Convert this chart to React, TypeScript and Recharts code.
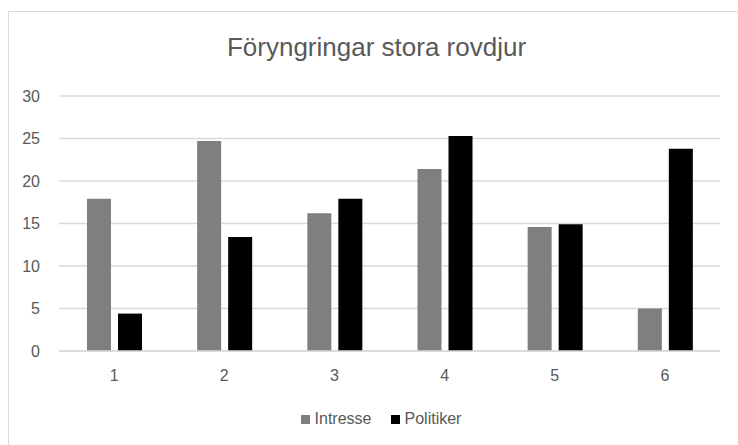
import { BarChart, Bar, XAxis, YAxis, CartesianGrid } from 'recharts';

const categories = ['1', '2', '3', '4', '5', '6'];
const intresse = [17.9, 24.7, 16.2, 21.4, 14.6, 5.0];
const politiker = [4.4, 13.4, 17.9, 25.3, 14.9, 23.8];
const yTicks = [0, 5, 10, 15, 20, 25, 30];

const series = [
  { key: 'Intresse', color: '#7f7f7f' },
  { key: 'Politiker', color: '#000000' },
];

const data = categories.map((c, i) => ({
  name: c,
  Intresse: intresse[i],
  Politiker: politiker[i],
}));

const FONT = '"Liberation Sans", Arial, sans-serif';
const TEXT = '#595959';

export default function App() {
  return (
    <div style={{ position: 'absolute', left: 0, top: 0, width: 738, height: 445, overflow: 'hidden', background: '#fff' }}>
      <div style={{ position: 'absolute', left: 8, top: 11, width: 760, height: 460, border: '1px solid #d9d9d9', boxSizing: 'border-box' }} />
      <div style={{ position: 'absolute', left: 0, top: 32, width: 753, textAlign: 'center', fontFamily: FONT, fontSize: 26, color: TEXT }}>
        Föryngringar stora rovdjur
      </div>
      <div style={{ position: 'absolute', left: 0, top: 0 }}>
        <BarChart width={738} height={445} data={data} margin={{ top: 96, right: 18, bottom: 64, left: 0 }} barSize={24} barGap={7}>
          <CartesianGrid vertical={false} stroke="#d9d9d9" strokeWidth={1.5} />
          <XAxis dataKey="name" height={30} axisLine={{ stroke: '#d9d9d9', strokeWidth: 1.5 }} tickLine={false} tickMargin={13}
            tick={{ fill: TEXT, fontSize: 16, fontFamily: FONT }} />
          <YAxis width={59} domain={[0, 30]} ticks={yTicks} axisLine={false} tickLine={false} tickMargin={13}
            tick={{ fill: TEXT, fontSize: 16, fontFamily: FONT }} />
          {series.map((s) => (
            <Bar key={s.key} dataKey={s.key} fill={s.color} isAnimationActive={false} />
          ))}
        </BarChart>
      </div>
      <div style={{ position: 'absolute', left: 0, top: 410, width: 762, display: 'flex', justifyContent: 'center', gap: 19, fontFamily: FONT, fontSize: 16, color: TEXT }}>
        {series.map((s) => (
          <div key={s.key} style={{ display: 'flex', alignItems: 'center' }}>
            <span style={{ width: 9, height: 9, background: s.color, display: 'inline-block', marginRight: 5 }} />
            <span>{s.key}</span>
          </div>
        ))}
      </div>
    </div>
  );
}
